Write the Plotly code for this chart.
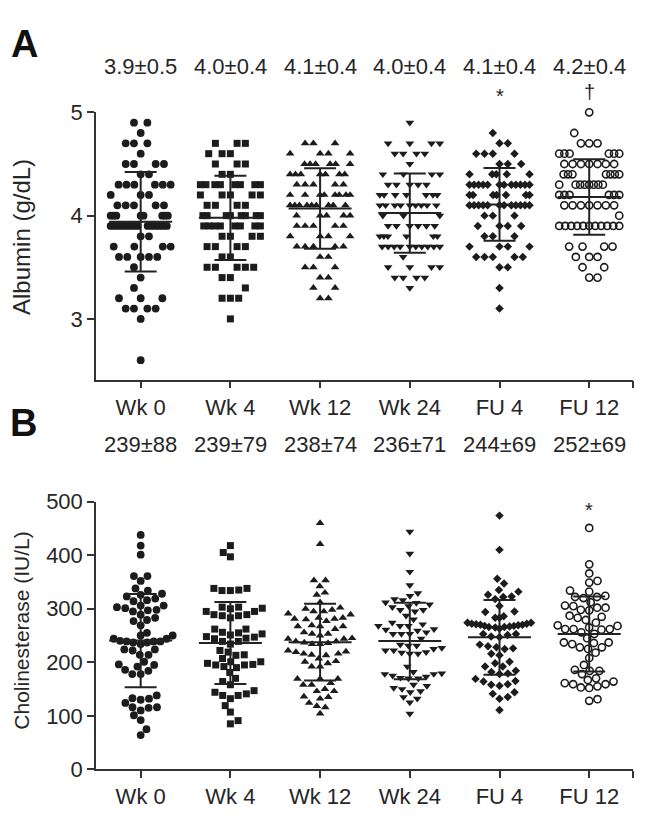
import numpy as np
import plotly.graph_objects as go

# ---------------- data ----------------
categories = ["Wk 0", "Wk 4", "Wk 12", "Wk 24", "FU 4", "FU 12"]

# Albumin (g/dL): discrete levels and number of patients at each level
alb_wk0_levels = [4.9, 4.8, 4.7, 4.6, 4.5, 4.4, 4.3, 4.2, 4.1, 4.0, 3.9, 3.8, 3.7, 3.6, 3.5, 3.4, 3.3, 3.2, 3.1, 3.0, 2.6]
alb_wk0_counts = [2, 1, 3, 1, 4, 2, 6, 3, 5, 8, 14, 2, 4, 5, 1, 1, 1, 3, 4, 1, 1]
alb_wk4_levels = [4.7, 4.6, 4.5, 4.4, 4.3, 4.2, 4.1, 4.0, 3.9, 3.8, 3.7, 3.6, 3.5, 3.4, 3.3, 3.2, 3.0]
alb_wk4_counts = [3, 3, 3, 2, 8, 5, 4, 8, 8, 4, 4, 2, 5, 2, 1, 3, 1]
alb_wk12_levels = [4.7, 4.6, 4.5, 4.4, 4.3, 4.2, 4.1, 4.0, 3.9, 3.8, 3.7, 3.6, 3.5, 3.4, 3.3, 3.2]
alb_wk12_counts = [3, 4, 6, 7, 5, 8, 9, 5, 5, 4, 5, 2, 3, 2, 2, 2]
alb_wk24_levels = [4.9, 4.7, 4.6, 4.5, 4.4, 4.3, 4.2, 4.1, 4.0, 3.9, 3.8, 3.7, 3.6, 3.5, 3.4, 3.3]
alb_wk24_counts = [1, 4, 4, 1, 4, 5, 7, 9, 3, 6, 6, 10, 1, 4, 4, 1]
alb_fu4_levels = [4.8, 4.7, 4.6, 4.5, 4.4, 4.3, 4.2, 4.1, 4.0, 3.9, 3.8, 3.7, 3.6, 3.5, 3.3, 3.1]
alb_fu4_counts = [1, 2, 4, 3, 5, 12, 7, 12, 3, 4, 3, 4, 5, 2, 1, 1]
alb_fu12_levels = [5.0, 4.8, 4.7, 4.6, 4.5, 4.4, 4.3, 4.2, 4.1, 4.0, 3.9, 3.7, 3.6, 3.5, 3.4]
alb_fu12_counts = [1, 1, 3, 6, 7, 7, 8, 6, 7, 1, 11, 4, 3, 2, 2]

alb_labels = ["3.9±0.5", "4.0±0.4", "4.1±0.4", "4.0±0.4", "4.1±0.4", "4.2±0.4"]
alb_marks = ["", "", "", "", "*", "†"]

# Cholinesterase (IU/L)
che_wk0 = [438, 418, 401, 361, 361, 352, 334, 338, 323, 326, 328, 319, 316, 314, 306, 306,
           298, 295, 303, 301, 297, 289, 283, 277, 279, 269, 250, 250, 255, 240, 237, 239,
           244, 234, 237, 239, 239, 244, 222, 214, 224, 224, 214, 196, 192, 201, 184, 178,
           178, 186, 195, 132, 133, 138, 130, 116, 115, 110, 116, 124, 101, 92, 75, 64]
che_wk4 = [418, 405, 397, 338, 334, 335, 334, 338, 303, 301, 295, 289, 287, 283, 287, 289,
           295, 300, 303, 262, 262, 256, 253, 248, 245, 239, 234, 239, 244, 247, 251, 255,
           219, 207, 213, 214, 222, 201, 195, 192, 190, 196, 195, 198, 201, 181, 170, 164,
           158, 144, 138, 147, 141, 132, 138, 119, 107, 85, 91]
che_wk12 = [460, 421, 353, 353, 342, 326, 330, 312, 300, 291, 289, 298, 295, 295, 302,
            281, 277, 283, 280, 281, 283, 267, 267, 262, 267, 269, 253, 245, 244, 250, 244,
            253, 256, 234, 237, 239, 236, 239, 234, 219, 216, 214, 216, 220, 222, 213, 207,
            201, 192, 192, 198, 202, 169, 158, 161, 158, 169, 169, 150, 146, 135, 132, 136,
            146, 116, 118, 124, 104]
che_wk24 = [444, 403, 369, 344, 324, 316, 318, 329, 312, 308, 303, 295, 298, 298, 305, 311,
            287, 274, 268, 268, 268, 271, 280, 261, 256, 253, 244, 253, 253, 259, 262, 233,
            231, 225, 222, 219, 216, 216, 218, 222, 227, 231, 192, 178, 175, 171, 182, 179,
            170, 170, 173, 178, 152, 146, 158, 156, 144, 150, 135, 125, 132, 104]
che_fu4 = [474, 410, 356, 347, 335, 326, 323, 332, 318, 322, 305, 294, 295, 283, 283, 286,
           274, 272, 270, 268, 266, 263, 266, 268, 270, 272, 274, 271, 269, 267, 265,
           251, 248, 247, 253, 253, 233, 228, 225, 213, 216, 226, 230, 201, 192, 192, 198,
           182, 178, 169, 164, 165, 158, 179, 184, 156, 144, 135, 141, 132, 159, 111]
che_fu12 = [451, 383, 352, 349, 366, 332, 334, 322, 320, 322, 324, 312, 302, 305, 298, 302,
            306, 297, 285, 283, 287, 274, 268, 262, 261, 262, 262, 265, 269, 279, 253, 245,
            256, 237, 236, 228, 225, 234, 237, 228, 218, 208, 195, 186, 178, 184, 184, 167,
            164, 159, 152, 155, 153, 159, 161, 170, 128, 131]

che_labels = ["239±88", "239±79", "238±74", "236±71", "244±69", "252±69"]
che_marks = ["", "", "", "", "", "*"]

# ---------------- layout geometry ----------------
W, H = 646, 825
XDOM = [96 / W, 633 / W]
XR = [-0.498, 5.488]
YDOM_A = [1 - 379 / H, 1 - 103.5 / H]
YR_A = [2.413, 5.0]
YDOM_B = [1 - 781 / H, 1 - 505 / H]
YR_B = [0, 500]

px_per_x = W * (XDOM[1] - XDOM[0]) / (XR[1] - XR[0])
px_per_yA = H * (YDOM_A[1] - YDOM_A[0]) / (YR_A[1] - YR_A[0])
px_per_yB = H * (YDOM_B[1] - YDOM_B[0]) / (YR_B[1] - YR_B[0])

FONT = "Liberation Sans, Arial, Helvetica, sans-serif"
INK = "#1c1c1c"
TXT = "#262626"


def expand(levels, counts):
    out = []
    for v, c in zip(levels, counts):
        out += [v] * c
    return out


def swarm(values, ppy, a, b, limit, nb):
    """Beeswarm offsets (in pixels) with elliptical collision a (x) / b (y)."""
    y = np.asarray(values, float) * ppy
    n = len(y)
    order = np.argsort(y, kind="stable")
    xs = np.zeros(n)
    placed = []
    flip = 1.0
    for i in order:
        near = [(xs[j], y[j]) for j in placed if abs(y[j] - y[i]) < b]
        cands = [0.0]
        for xj, yj in near:
            dx = a * np.sqrt(max(0.0, 1 - ((y[i] - yj) / b) ** 2))
            cands += [xj - dx, xj + dx]

        def ok(c):
            return all(((c - xj) / a) ** 2 + ((y[i] - yj) / b) ** 2 >= 1 - 1e-9 for xj, yj in near)

        valid = [c for c in cands if ok(c)]
        best = min(valid, key=lambda c: (round(abs(c), 4), -flip * np.sign(c)))
        if best != 0:
            flip = -flip
        xs[i] = best
        placed.append(i)
    out = xs.copy()
    for i in range(n):
        m = max(abs(xs[j]) for j in range(n) if abs(y[j] - y[i]) < nb)
        if m > limit:
            out[i] = xs[i] * limit / m
    return out


alb_groups = [
    expand(alb_wk0_levels, alb_wk0_counts),
    expand(alb_wk4_levels, alb_wk4_counts),
    expand(alb_wk12_levels, alb_wk12_counts),
    expand(alb_wk24_levels, alb_wk24_counts),
    expand(alb_fu4_levels, alb_fu4_counts),
    expand(alb_fu12_levels, alb_fu12_counts),
]
che_groups = [che_wk0, che_wk4, che_wk12, che_wk24, che_fu4, che_fu12]

symbols = [
    dict(symbol="circle", size=7.8, color=INK),
    dict(symbol="square", size=7, color=INK),
    dict(symbol="triangle-up", size=7.6, color=INK),
    dict(symbol="triangle-down", size=7.6, color=INK),
    dict(symbol="diamond", size=6.5, color=INK),
    dict(symbol="circle-open", size=7.2, color=INK, line=dict(width=1.6, color=INK)),
]

fig = go.Figure()


def add_panel(groups, xa, ya, ppy, a, b, limit, nb):
    for i, vals in enumerate(groups):
        off = swarm(vals, ppy, a, b, limit, nb) / px_per_x
        fig.add_trace(go.Scatter(
            x=i + off, y=vals, mode="markers", xaxis=xa, yaxis=ya, cliponaxis=False,
            marker=dict(**symbols[i]), showlegend=False, hoverinfo="y"))
    means = [float(np.mean(v)) for v in groups]
    sds = [float(np.std(v, ddof=1)) for v in groups]
    half = 31.5 / px_per_x
    mx, my = [], []
    for i, m in enumerate(means):
        mx += [i - half, i + half, None]
        my += [m, m, None]
    fig.add_trace(go.Scatter(x=mx, y=my, mode="lines", xaxis=xa, yaxis=ya,
                             line=dict(color="#222", width=2), showlegend=False, hoverinfo="skip"))
    fig.add_trace(go.Scatter(
        x=list(range(len(groups))), y=means, mode="markers", xaxis=xa, yaxis=ya,
        marker=dict(size=1, color="rgba(0,0,0,0)"),
        error_y=dict(type="data", array=sds, visible=True, color="#222", thickness=2, width=16),
        showlegend=False, hoverinfo="skip"))


add_panel(alb_groups, "x", "y", px_per_yA, 8.3, 18.0, 30.0, 1.0)
add_panel(che_groups, "x2", "y2", px_per_yB, 8.4, 8.4, 32.0, 8.4)

tickvals_x = list(range(len(categories))) + [XR[1] - 0.001]
ticktext_x = categories + [""]

axis_common = dict(showline=True, linecolor="#333", linewidth=1.5, ticks="outside",
                   ticklen=7, tickwidth=1.5, tickcolor="#333", showgrid=False, zeroline=False,
                   tickfont=dict(family=FONT, size=22, color=TXT))

fig.update_layout(
    autosize=True, margin=dict(l=0, r=0, t=0, b=0),
    paper_bgcolor="white", plot_bgcolor="white",
    xaxis=dict(domain=XDOM, range=XR, anchor="y", tickvals=tickvals_x, ticktext=ticktext_x, **axis_common),
    yaxis=dict(domain=YDOM_A, range=YR_A, anchor="x", tickvals=[3, 4, 5], **axis_common),
    xaxis2=dict(domain=XDOM, range=XR, anchor="y2", tickvals=tickvals_x, ticktext=ticktext_x, **axis_common),
    yaxis2=dict(domain=YDOM_B, range=YR_B, anchor="x2", tickvals=[0, 100, 200, 300, 400, 500], **axis_common),
)

ann = []
for i, t in enumerate(alb_labels):
    ann.append(dict(x=i, y=1 - 56 / H, xref="x", yref="paper", text=t, showarrow=False,
                    font=dict(family=FONT, size=22, color=TXT), xanchor="center", yanchor="middle"))
for i, t in enumerate(alb_marks):
    if t:
        ann.append(dict(x=i, y=1 - (87 if t == "*" else 83) / H, xref="x", yref="paper", text=t,
                        showarrow=False, font=dict(family=FONT, size=20, color=TXT),
                        xanchor="center", yanchor="middle"))
for i, t in enumerate(che_labels):
    ann.append(dict(x=i, y=1 - 446 / H, xref="x2", yref="paper", text=t, showarrow=False,
                    font=dict(family=FONT, size=22, color=TXT), xanchor="center", yanchor="middle"))
for i, t in enumerate(che_marks):
    if t:
        ann.append(dict(x=i, y=1 - 514 / H, xref="x2", yref="paper", text=t, showarrow=False,
                        font=dict(family=FONT, size=20, color=TXT), xanchor="center", yanchor="middle"))

ann.append(dict(x=24 / W, y=1 - 33 / H, xref="paper", yref="paper", text="<b>A</b>", showarrow=False,
                font=dict(family=FONT, size=38, color="#111"), xanchor="center", yanchor="middle"))
ann.append(dict(x=23 / W, y=1 - 424 / H, xref="paper", yref="paper", text="<b>B</b>", showarrow=False,
                font=dict(family=FONT, size=38, color="#111"), xanchor="center", yanchor="middle"))
ann.append(dict(x=22 / W, y=1 - 232 / H, xref="paper", yref="paper", text="Albumin (g/dL)",
                showarrow=False, textangle=-90, font=dict(family=FONT, size=24, color=TXT),
                xanchor="center", yanchor="middle"))
ann.append(dict(x=22 / W, y=1 - 638 / H, xref="paper", yref="paper", text="Cholinesterase (IU/L)",
                showarrow=False, textangle=-90, font=dict(family=FONT, size=21, color=TXT),
                xanchor="center", yanchor="middle"))

fig.update_layout(annotations=ann)

post = (
    "document.documentElement.style.margin='0';document.documentElement.style.padding='0';"
    "document.documentElement.style.overflow='hidden';"
    "document.body.style.margin='0';document.body.style.padding='0';document.body.style.overflow='hidden';"
    "var gd=document.getElementById('{plot_id}');"
    "gd.style.position='fixed';gd.style.left='0';gd.style.top='0';"
    "gd.style.width='100vw';gd.style.height='100vh';"
    "Plotly.Plots.resize(gd);"
)
fig.write_html("out.html", default_width="100vw", default_height="100vh",
               config={"displayModeBar": False, "responsive": True}, post_script=post)
